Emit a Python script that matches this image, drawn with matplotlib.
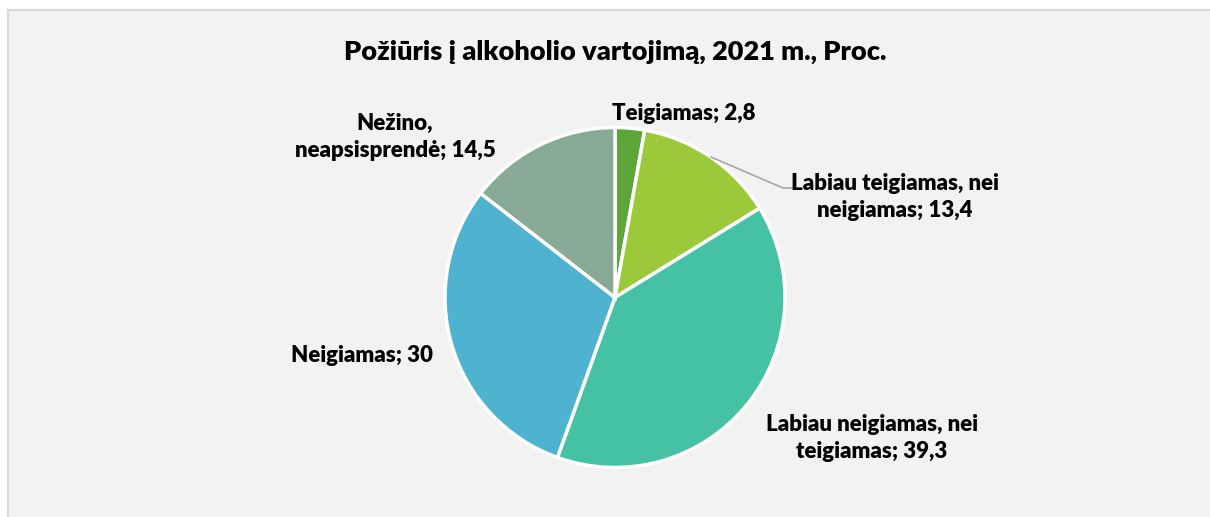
import matplotlib.pyplot as plt
from matplotlib.patches import Rectangle

labels = ["Teigiamas; 2,8", "Labiau teigiamas, nei\nneigiamas; 13,4",
          "Labiau neigiamas, nei\nteigiamas; 39,3", "Neigiamas; 30",
          "Nežino,\nneapsisprendė; 14,5"]
values = [2.8, 13.4, 39.3, 30, 14.5]
colors = ["#5ea53a", "#9bc93a", "#45c2a4", "#4fb3d0", "#87a996"]

W, H = 1210, 517
fig = plt.figure(figsize=(W / 100, H / 100), dpi=100)
fig.patch.set_facecolor("white")
ax = fig.add_axes([0, 0, 1, 1])

# chart area background
ax.add_patch(Rectangle((8, -5), W, H - 10 + 5, facecolor="#f2f2f2",
                       edgecolor="#d9d9d9", linewidth=1.5, zorder=0))

font = "Lato"
cx, cy, r = 615, H - 297.5, 170
ax.pie(values, colors=colors, startangle=90, counterclock=False,
       center=(cx, cy), radius=r, frame=True,
       wedgeprops=dict(edgecolor="white", linewidth=2.5))
ax.set_xlim(0, W)
ax.set_ylim(0, H)
ax.set_aspect("equal")
ax.axis("off")

ax.text(615, H - 52, "Požiūris į alkoholio vartojimą, 2021 m., Proc.",
        ha="center", va="center", fontsize=19.5, fontweight="heavy",
        family=font)

# label positions (pixel coords from top)
pos = [(684, 113), (895, 197), (872, 438), (362, 355), (395, 137)]
for lab, (x, y) in zip(labels, pos):
    ax.text(x, H - y, lab, ha="center", va="center", fontsize=16,
            fontweight="heavy", family=font, linespacing=1.32)

# leader line for the second slice
ax.plot([711, 783, 793], [H - 157, H - 188, H - 188], color="#a6a6a6",
        linewidth=1.2)

fig.savefig("out.png", dpi=100, facecolor=fig.get_facecolor())
